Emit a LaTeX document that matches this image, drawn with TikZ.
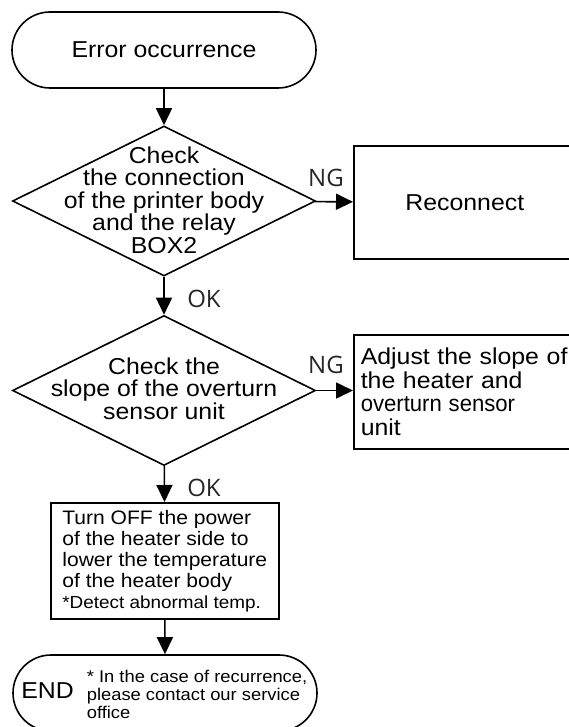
\documentclass[tikz,border=0pt]{standalone}
\usepackage{fontspec}
\setmainfont{Liberation Sans}[FakeStretch=1.08]
\newfontfamily\okfont{Open Sans}
\usepackage{tikz}
\usetikzlibrary{shapes.geometric,arrows.meta}

\tikzset{
  terminal/.style={draw, rounded corners=38pt, minimum width=304pt, minimum height=76pt, inner sep=0pt},
  decision/.style={draw, diamond, minimum width=303pt, minimum height=150pt, inner sep=0pt},
  box/.style={draw, anchor=north west, inner sep=0pt},
  flow/.style={-{Triangle[length=17pt,width=16pt]}},
  oklabel/.style={font=\okfont\fontsize{24}{24}\selectfont, text=black!85, inner sep=0pt}
}

\begin{document}
\begin{tikzpicture}[x=1pt, y=-1pt, line width=1.6pt]
    \useasboundingbox (0,0) rectangle (569,727);

    % Start of the flow
    \node[terminal, font=\fontsize{23}{27}\selectfont] (start) at (164,50) {Error occurrence};

    % First check and its NG branch
    \node[decision] (check1) at (164,201) {};
    \node[align=center, font=\fontsize{23}{22.5}\selectfont, inner sep=0pt] (check1text) at (164,200)
        {Check\\the connection\\of the printer body\\and the relay\\BOX2};
    \node[box, minimum width=222pt, minimum height=113pt, font=\fontsize{23}{27}\selectfont] (reconnect) at (353,145) {Reconnect};

    % Second check and its NG branch
    \node[decision] (check2) at (164,390.5) {};
    \node[align=center, font=\fontsize{23}{22.5}\selectfont, inner sep=0pt] (check2text) at (164,388.5)
        {Check the\\slope of the overturn\\sensor unit};
    \node[box, minimum width=222pt, minimum height=114pt, text width=250pt, inner xsep=7pt, align=left,
          font=\fontsize{23}{23.5}\selectfont] (adjust) at (353,334)
        {Adjust the slope of\\the heater and\\\scalebox{0.89}[1]{overturn sensor}\\unit};

    % Turn off the heater
    \node[box, minimum width=228pt, minimum height=116pt, align=left,
          font=\fontsize{19.5}{21}\selectfont] (poweroff) at (50,502)
        {Turn OFF the power\\of the heater side to\\lower the temperature\\of the heater body\\
         {\fontsize{17.5}{21}\selectfont *Detect abnormal temp.}};

    % End of the flow
    \node[terminal] (finish) at (165,693) {};
    \node[font=\fontsize{23}{23}\selectfont, inner sep=0pt] (endtext) at (47.5,691) {END};
    \node[anchor=west, align=left, font=\fontsize{17}{18}\selectfont, inner sep=0pt] (note) at (86,694)
        {* In the case of recurrence,\\please contact our service\\office};

    % Arrows
    \draw[flow] (start) -- (check1);
    \draw[flow] (check1) -- (reconnect);
    \draw[flow] (check1) -- (check2);
    \draw[flow] (check2) -- (adjust.west |- check2);
    \draw[flow] (check2) -- (poweroff);
    \draw[flow] (poweroff) -- (finish);

    % NG and OK labels
    \node[oklabel] (ng1) at (326,178) {NG};
    \node[oklabel] (ok1) at (204,298.5) {OK};
    \node[oklabel] (ng2) at (326,365) {NG};
    \node[oklabel] (ok2) at (204,488) {OK};
\end{tikzpicture}
\end{document}
